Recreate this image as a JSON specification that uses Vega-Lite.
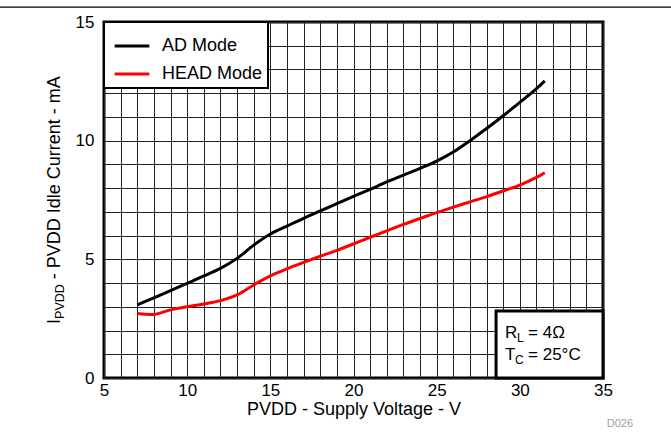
{
  "$schema": "https://vega.github.io/schema/vega-lite/v6.json",
  "width": 499,
  "height": 356,
  "autosize": {"type": "none"},
  "padding": {"left": 104, "top": 22, "right": 68, "bottom": 55},
  "background": "white",
  "config": {
    "font": "Liberation Sans",
    "view": {"stroke": "black", "strokeWidth": 3},
    "axis": {
      "labelFont": "Liberation Sans",
      "labelFontSize": 17,
      "labelColor": "black",
      "titleFont": "Liberation Sans",
      "titleFontSize": 18,
      "titleFontWeight": "normal",
      "titleColor": "black",
      "ticks": false,
      "domain": false,
      "grid": true,
      "gridColor": "#222222",
      "gridOpacity": 1,
      "gridWidth": 1,
      "labelFlush": false,
      "labelOverlap": false
    },
    "legend": {
      "orient": "top-left",
      "offset": 0,
      "padding": 5,
      "fillColor": "white",
      "strokeColor": "black",
      "strokeWidth": 2,
      "symbolType": "stroke",
      "symbolSize": 1200,
      "symbolStrokeWidth": 3,
      "symbolOffset": 4,
      "labelFont": "Liberation Sans",
      "labelFontSize": 18,
      "labelColor": "black",
      "labelOffset": 11,
      "rowPadding": -13
    }
  },
  "title": {"text": "D026", "orient": "bottom", "anchor": "end", "frame": "group", "fontSize": 11, "color": "#a0a0a0", "fontWeight": "normal", "font": "Liberation Sans", "dx": 30, "offset": 0},
  "layer": [
    {
      "data": {"values": [
        {"v": 7, "mode": "AD Mode", "i": 3.08},
        {"v": 8, "mode": "AD Mode", "i": 3.38},
        {"v": 9, "mode": "AD Mode", "i": 3.68},
        {"v": 10, "mode": "AD Mode", "i": 3.99},
        {"v": 11, "mode": "AD Mode", "i": 4.3},
        {"v": 12, "mode": "AD Mode", "i": 4.62},
        {"v": 13, "mode": "AD Mode", "i": 5.04},
        {"v": 14, "mode": "AD Mode", "i": 5.6},
        {"v": 15, "mode": "AD Mode", "i": 6.07},
        {"v": 16, "mode": "AD Mode", "i": 6.4},
        {"v": 17, "mode": "AD Mode", "i": 6.73},
        {"v": 18, "mode": "AD Mode", "i": 7.04},
        {"v": 19, "mode": "AD Mode", "i": 7.35},
        {"v": 20, "mode": "AD Mode", "i": 7.65},
        {"v": 21, "mode": "AD Mode", "i": 7.95},
        {"v": 22, "mode": "AD Mode", "i": 8.26},
        {"v": 23, "mode": "AD Mode", "i": 8.55},
        {"v": 24, "mode": "AD Mode", "i": 8.83},
        {"v": 25, "mode": "AD Mode", "i": 9.14},
        {"v": 26, "mode": "AD Mode", "i": 9.52},
        {"v": 27, "mode": "AD Mode", "i": 10.0},
        {"v": 28, "mode": "AD Mode", "i": 10.51},
        {"v": 29, "mode": "AD Mode", "i": 11.05},
        {"v": 30, "mode": "AD Mode", "i": 11.61},
        {"v": 31, "mode": "AD Mode", "i": 12.19},
        {"v": 31.5, "mode": "AD Mode", "i": 12.52},
        {"v": 7, "mode": "HEAD Mode", "i": 2.72},
        {"v": 8, "mode": "HEAD Mode", "i": 2.68},
        {"v": 9, "mode": "HEAD Mode", "i": 2.87},
        {"v": 10, "mode": "HEAD Mode", "i": 3.0},
        {"v": 11, "mode": "HEAD Mode", "i": 3.12},
        {"v": 12, "mode": "HEAD Mode", "i": 3.26},
        {"v": 13, "mode": "HEAD Mode", "i": 3.5},
        {"v": 14, "mode": "HEAD Mode", "i": 3.92},
        {"v": 15, "mode": "HEAD Mode", "i": 4.3},
        {"v": 16, "mode": "HEAD Mode", "i": 4.6},
        {"v": 17, "mode": "HEAD Mode", "i": 4.87},
        {"v": 18, "mode": "HEAD Mode", "i": 5.13},
        {"v": 19, "mode": "HEAD Mode", "i": 5.38},
        {"v": 20, "mode": "HEAD Mode", "i": 5.65},
        {"v": 21, "mode": "HEAD Mode", "i": 5.93},
        {"v": 22, "mode": "HEAD Mode", "i": 6.2},
        {"v": 23, "mode": "HEAD Mode", "i": 6.47},
        {"v": 24, "mode": "HEAD Mode", "i": 6.72},
        {"v": 25, "mode": "HEAD Mode", "i": 6.97},
        {"v": 26, "mode": "HEAD Mode", "i": 7.2},
        {"v": 27, "mode": "HEAD Mode", "i": 7.42},
        {"v": 28, "mode": "HEAD Mode", "i": 7.64},
        {"v": 29, "mode": "HEAD Mode", "i": 7.88},
        {"v": 30, "mode": "HEAD Mode", "i": 8.13},
        {"v": 31, "mode": "HEAD Mode", "i": 8.45},
        {"v": 31.5, "mode": "HEAD Mode", "i": 8.65}
      ]},
      "mark": {"type": "line", "strokeWidth": 3, "interpolate": "catmull-rom"},
      "encoding": {
        "x": {
          "field": "v", "type": "quantitative",
          "scale": {"domain": [5, 35], "nice": false, "zero": false},
          "axis": {"values": [5,6,7,8,9,10,11,12,13,14,15,16,17,18,19,20,21,22,23,24,25,26,27,28,29,30,31,32,33,34,35], "labelExpr": "datum.value % 5 === 0 ? datum.label : ''", "labelPadding": 4, "title": "PVDD - Supply Voltage - V", "titlePadding": 2}
        },
        "y": {
          "field": "i", "type": "quantitative",
          "scale": {"domain": [0, 15], "nice": false},
          "axis": {"values": [0,1,2,3,4,5,6,7,8,9,10,11,12,13,14,15], "labelExpr": "datum.value % 5 === 0 ? datum.label : ''", "labelPadding": 10, "title": null}
        },
        "color": {
          "field": "mode", "type": "nominal",
          "scale": {"domain": ["AD Mode", "HEAD Mode"], "range": ["black", "#ff0000"]},
          "legend": {"title": null, "labelExpr": "datum.label + '\u00a0'"}
        }
      }
    },
    {
      "data": {"values": [{}]},
      "mark": {"type": "rule", "color": "black", "strokeWidth": 1.2, "clip": false},
      "encoding": {
        "x": {"datum": -1.3, "type": "quantitative", "axis": {"values": [5,6,7,8,9,10,11,12,13,14,15,16,17,18,19,20,21,22,23,24,25,26,27,28,29,30,31,32,33,34,35], "labelExpr": "datum.value % 5 === 0 ? datum.label : ''", "labelPadding": 4, "title": "PVDD - Supply Voltage - V", "titlePadding": 2}},
        "x2": {"datum": 39.2},
        "y": {"datum": 15.63, "type": "quantitative", "axis": {"values": [0,1,2,3,4,5,6,7,8,9,10,11,12,13,14,15], "labelExpr": "datum.value % 5 === 0 ? datum.label : ''", "labelPadding": 10, "title": null}}
      }
    },
    {
      "data": {"values": [{}]},
      "mark": {"type": "rect", "fill": "white", "stroke": "black", "strokeWidth": 3},
      "encoding": {
        "x": {"datum": 28.57, "type": "quantitative", "axis": {"values": [5,6,7,8,9,10,11,12,13,14,15,16,17,18,19,20,21,22,23,24,25,26,27,28,29,30,31,32,33,34,35], "labelExpr": "datum.value % 5 === 0 ? datum.label : ''", "labelPadding": 4, "title": "PVDD - Supply Voltage - V", "titlePadding": 2}},
        "x2": {"datum": 35},
        "y": {"datum": 0, "type": "quantitative", "axis": {"values": [0,1,2,3,4,5,6,7,8,9,10,11,12,13,14,15], "labelExpr": "datum.value % 5 === 0 ? datum.label : ''", "labelPadding": 10, "title": null}},
        "y2": {"datum": 2.82}
      }
    },
    {
      "data": {"values": [{}]},
      "encoding": {
        "x": {"datum": 29.11, "type": "quantitative", "axis": {"values": [5,6,7,8,9,10,11,12,13,14,15,16,17,18,19,20,21,22,23,24,25,26,27,28,29,30,31,32,33,34,35], "labelExpr": "datum.value % 5 === 0 ? datum.label : ''", "labelPadding": 4, "title": "PVDD - Supply Voltage - V", "titlePadding": 2}},
        "y": {"datum": 1.686, "type": "quantitative", "axis": {"values": [0,1,2,3,4,5,6,7,8,9,10,11,12,13,14,15], "labelExpr": "datum.value % 5 === 0 ? datum.label : ''", "labelPadding": 10, "title": null}}
      },
      "layer": [
        {"mark": {"type": "text", "text": "R", "align": "left", "baseline": "alphabetic", "fontSize": 17, "color": "black"}},
        {"mark": {"type": "text", "text": "L", "align": "left", "baseline": "alphabetic", "fontSize": 12, "dx": 12, "dy": 4, "color": "black"}},
        {"mark": {"type": "text", "text": "= 4Ω", "align": "left", "baseline": "alphabetic", "fontSize": 17, "dx": 23, "color": "black"}}
      ]
    },
    {
      "data": {"values": [{}]},
      "encoding": {
        "x": {"datum": 29.11, "type": "quantitative", "axis": {"values": [5,6,7,8,9,10,11,12,13,14,15,16,17,18,19,20,21,22,23,24,25,26,27,28,29,30,31,32,33,34,35], "labelExpr": "datum.value % 5 === 0 ? datum.label : ''", "labelPadding": 4, "title": "PVDD - Supply Voltage - V", "titlePadding": 2}},
        "y": {"datum": 0.759, "type": "quantitative", "axis": {"values": [0,1,2,3,4,5,6,7,8,9,10,11,12,13,14,15], "labelExpr": "datum.value % 5 === 0 ? datum.label : ''", "labelPadding": 10, "title": null}}
      },
      "layer": [
        {"mark": {"type": "text", "text": "T", "align": "left", "baseline": "alphabetic", "fontSize": 17, "color": "black"}},
        {"mark": {"type": "text", "text": "C", "align": "left", "baseline": "alphabetic", "fontSize": 12, "dx": 10, "dy": 4, "color": "black"}},
        {"mark": {"type": "text", "text": "= 25°C", "align": "left", "baseline": "alphabetic", "fontSize": 17, "dx": 23, "color": "black"}}
      ]
    },
    {
      "data": {"values": [{}]},
      "encoding": {
        "x": {"datum": 2.354, "type": "quantitative", "axis": {"values": [5,6,7,8,9,10,11,12,13,14,15,16,17,18,19,20,21,22,23,24,25,26,27,28,29,30,31,32,33,34,35], "labelExpr": "datum.value % 5 === 0 ? datum.label : ''", "labelPadding": 4, "title": "PVDD - Supply Voltage - V", "titlePadding": 2}},
        "y": {"datum": 2.28, "type": "quantitative", "axis": {"values": [0,1,2,3,4,5,6,7,8,9,10,11,12,13,14,15], "labelExpr": "datum.value % 5 === 0 ? datum.label : ''", "labelPadding": 10, "title": null}}
      },
      "layer": [
        {"mark": {"type": "text", "text": "I", "align": "left", "baseline": "alphabetic", "fontSize": 18, "angle": 270, "color": "black"}},
        {"mark": {"type": "text", "text": "PVDD", "align": "left", "baseline": "alphabetic", "fontSize": 12.5, "angle": 270, "dx": 5, "dy": 4, "color": "black"}},
        {"mark": {"type": "text", "text": "- PVDD Idle Current - mA", "align": "left", "baseline": "alphabetic", "fontSize": 18, "angle": 270, "dx": 44.7, "color": "black"}}
      ]
    }
  ]
}
